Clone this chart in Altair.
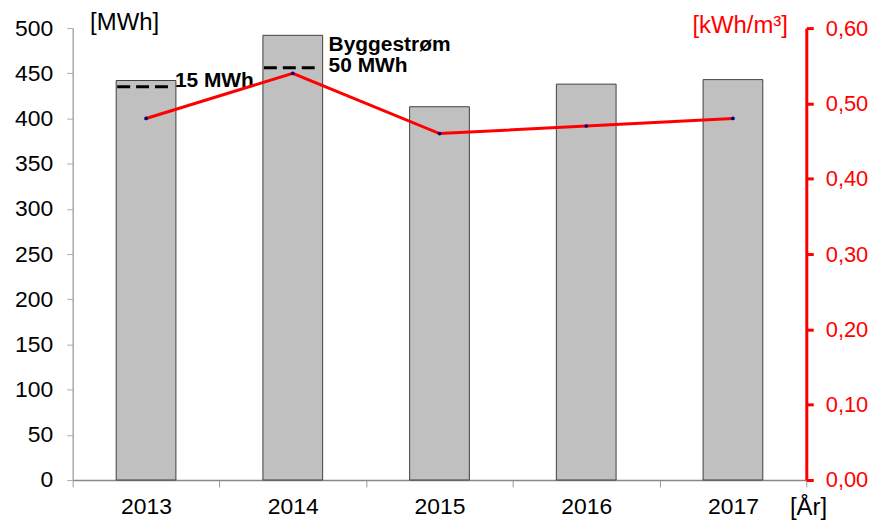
import altair as alt
import pandas as pd

years = ["2013", "2014", "2015", "2016", "2017"]
mwh = [442, 492, 413, 438, 443]
kwh_m3 = [0.48, 0.54, 0.46, 0.47, 0.48]

build_years = ["2013", "2014"]
build_levels = [435, 456]
build_labels = ["15 MWh", "50 MWh"]
build_title = "Byggestrøm"

df = pd.DataFrame({"year": years, "mwh": mwh, "kwh": kwh_m3})
bdf = pd.DataFrame({"year": build_years, "level": build_levels, "label": build_labels})

FONT = "Liberation Sans"

x_enc = alt.X(
    "year:N",
    sort=years,
    scale=alt.Scale(domain=years, paddingInner=0, paddingOuter=0),
    axis=alt.Axis(
        title="[År]", titleAngle=0, titleX=720, titleY=28, titleAlign="left",
        titleBaseline="middle", titleFontSize=24, titleFontWeight="normal",
        titleFont=FONT, titleColor="black",
        labelAngle=0, labelFontSize=23, labelFont=FONT, labelColor="black",
        labelPadding=9, tickBand="extent", tickSize=7, tickColor="#999999",
        domainColor="#888888", domainWidth=1.5, grid=False,
    ),
)

left_scale = alt.Scale(domain=[0, 500], nice=False)

bars = alt.Chart(df).mark_bar(size=60, color="#c0c0c0", stroke="#404040", strokeWidth=1).encode(
    x=x_enc,
    y=alt.Y(
        "mwh:Q", scale=left_scale,
        axis=alt.Axis(
            title="[MWh]", titleAngle=0, titleX=17, titleY=-6, titleAlign="left",
            titleBaseline="middle", titleFontSize=24, titleFontWeight="normal",
            titleFont=FONT, titleColor="black",
            values=list(range(0, 501, 50)), labelFontSize=23, labelFont=FONT,
            labelColor="black", labelPadding=14, tickSize=6, tickColor="#aaaaaa",
            domainColor="#aaaaaa", domainWidth=1.5, grid=False,
        ),
    ),
)

rules = alt.Chart(bdf).mark_rule(
    color="black", strokeWidth=3, strokeDash=[13, 6], xOffset=-29, x2Offset=24
).encode(
    x=alt.X("year:N", sort=years),
    x2=alt.X2("year"),
    y=alt.Y("level:Q", scale=left_scale),
)

lbl15 = alt.Chart(bdf[bdf.year == "2013"]).mark_text(
    align="left", baseline="middle", dx=29, dy=-6, fontSize=21, fontWeight="bold", font=FONT
).encode(
    x=alt.X("year:N", sort=years),
    y=alt.Y("level:Q", scale=left_scale),
    text="label:N",
)

lbl50 = alt.Chart(bdf[bdf.year == "2014"]).mark_text(
    align="left", baseline="middle", dx=36, dy=-2, fontSize=21, fontWeight="bold", font=FONT
).encode(
    x=alt.X("year:N", sort=years),
    y=alt.Y("level:Q", scale=left_scale),
    text="label:N",
)

lblB = alt.Chart(bdf[bdf.year == "2014"]).mark_text(
    align="left", baseline="middle", dx=36, dy=-23, fontSize=21, fontWeight="bold", font=FONT,
    text=build_title,
).encode(
    x=alt.X("year:N", sort=years),
    y=alt.Y("level:Q", scale=left_scale),
)

left = alt.layer(bars, rules, lbl15, lbl50, lblB)

right_scale = alt.Scale(domain=[0, 0.6], nice=False)

line = alt.Chart(df).mark_line(color="red", strokeWidth=3).encode(
    x=alt.X("year:N", sort=years),
    y=alt.Y(
        "kwh:Q", scale=right_scale,
        axis=alt.Axis(
            orient="right", title="[kWh/m³]", titleAngle=0, titleX=-19, titleY=-3,
            titleAlign="right", titleBaseline="middle", titleFontSize=24,
            titleFontWeight="normal", titleFont=FONT, titleColor="red",
            values=[0, 0.1, 0.2, 0.3, 0.4, 0.5, 0.6],
            labelExpr="replace(format(datum.value, '.2f'), '.', ',')",
            labelFontSize=22, labelFont=FONT, labelColor="red", labelPadding=12,
            tickSize=7, tickWidth=3, tickColor="red",
            domainColor="red", domainWidth=3, grid=False,
        ),
    ),
)

pts = alt.Chart(df).mark_point(filled=True, color="#000080", size=14, opacity=1).encode(
    x=alt.X("year:N", sort=years),
    y=alt.Y("kwh:Q", scale=right_scale),
)

right = alt.layer(line, pts)

chart = alt.layer(left, right).resolve_scale(y="independent").properties(
    width=737,
    height=454,
    autosize=alt.AutoSizeParams(type="none"),
    padding={"left": 65, "top": 19, "right": 65, "bottom": 39},
).configure_view(stroke=None)

chart.save("out.html", embed_options={"renderer": "svg", "actions": False})
